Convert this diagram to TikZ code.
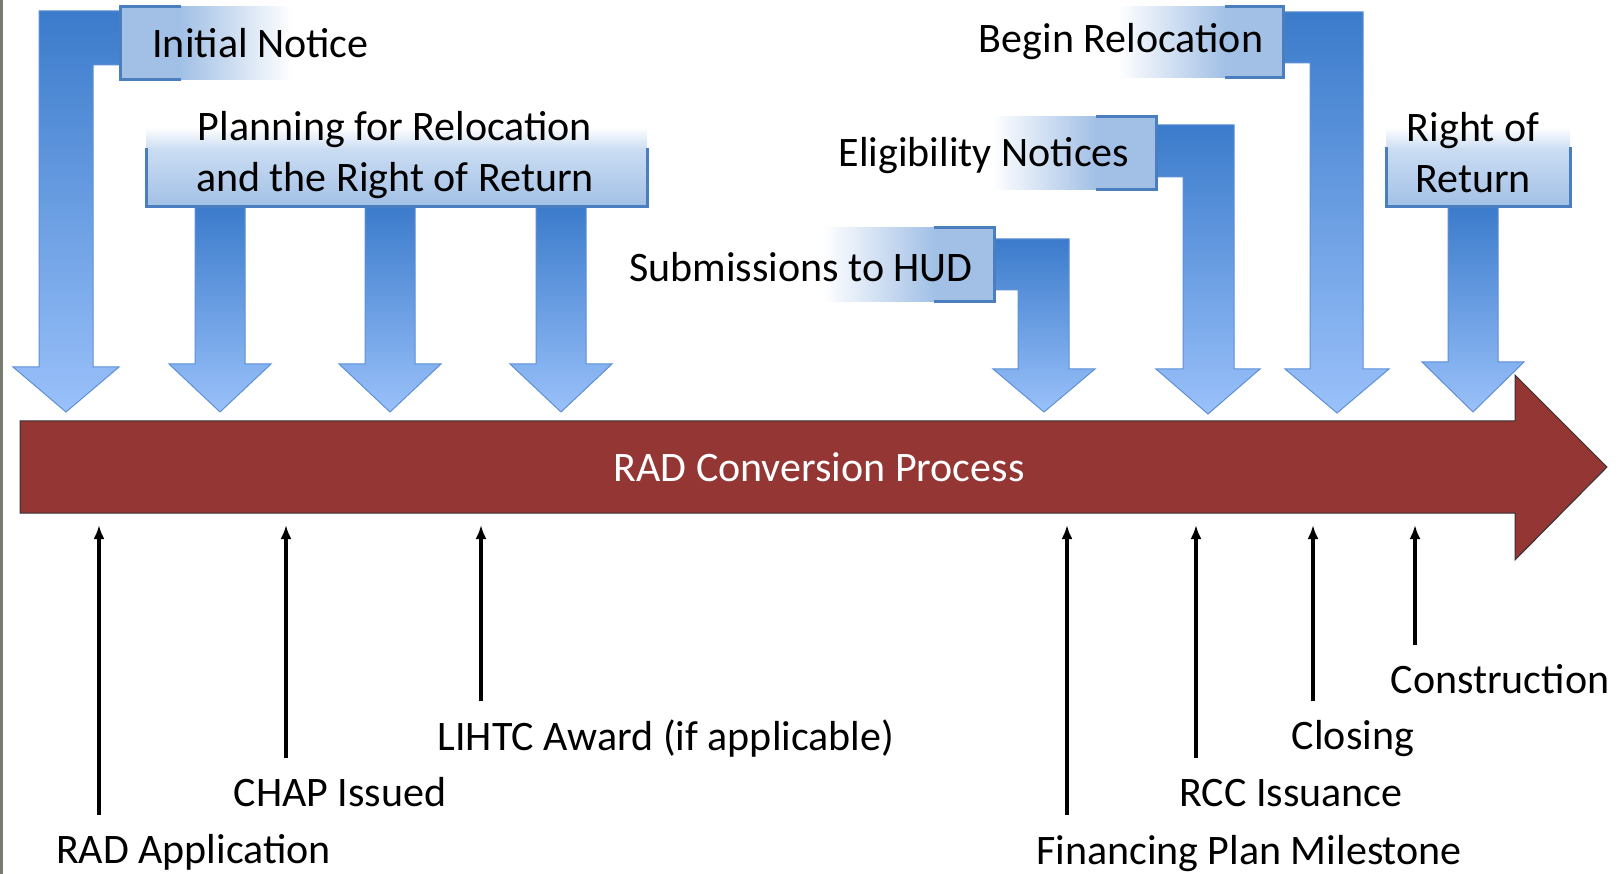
\documentclass[tikz,border=0pt]{standalone}
\usepackage{fontspec}
\setmainfont{Carlito}
\usetikzlibrary{arrows.meta}
\definecolor{bluetop}{HTML}{3B7BCB}
\definecolor{bluebot}{HTML}{9AC1FA}
\definecolor{blueline}{HTML}{5E90D6}
\definecolor{boxfill}{HTML}{A2C0E6}
\definecolor{boxlight}{HTML}{CADCF2}
\definecolor{boxedge}{HTML}{4A7EBF}
\definecolor{procred}{HTML}{943634}
\definecolor{sidegray}{HTML}{7A7A6E}
\begin{document}
\begin{tikzpicture}[x=1pt,y=-1pt,
  lbl/.style={font=\fontsize{42}{51}\selectfont, inner sep=0pt, anchor=base},
  barrow/.style={top color=bluetop, bottom color=bluebot, draw=blueline, line width=1pt, line join=miter},
  bord/.style={draw=boxedge, line width=3pt},
  blk/.style={line width=3.5pt, -{Latex[length=14pt,width=11pt]}}
]
\useasboundingbox (0,0) rectangle (1623,874);
\fill[white] (0,0) rectangle (1623,874);
\fill[sidegray] (0,0) rectangle (3,874);

% main process arrow
\path[fill=procred, draw=black!80, line width=1pt]
  (20,421) -- (1515,421) -- (1515,375) -- (1607,467) -- (1515,560) -- (1515,513) -- (20,513) -- cycle;
\node[lbl, text=white] (conv) at (819,482) {RAD Conversion Process};

% blue arrows
\path[barrow] (39,11) -- (122,11) -- (122,65) -- (93,65) -- (93,367) -- (119,367)
  -- (66,412) -- (13,367) -- (39,367) -- cycle;
\foreach \c in {220,390,561}
  \path[barrow] (\c-25,206) -- (\c+25,206) -- (\c+25,364) -- (\c+51,364) -- (\c,412)
    -- (\c-51,364) -- (\c-25,364) -- cycle;
\path[barrow] (990,239) -- (1069,239) -- (1069,369) -- (1095,369) -- (1044,412)
  -- (993,369) -- (1018,369) -- (1018,290) -- (990,290) -- cycle;
\path[barrow] (1152,125) -- (1234,125) -- (1234,369) -- (1260,369) -- (1208,414)
  -- (1156,369) -- (1183,369) -- (1183,177) -- (1152,177) -- cycle;
\path[barrow] (1279,12) -- (1363,12) -- (1363,369) -- (1389,369) -- (1337,413)
  -- (1285,369) -- (1310,369) -- (1310,63) -- (1279,63) -- cycle;
\path[barrow] (1448,206) -- (1498,206) -- (1498,362) -- (1524,362) -- (1473,412)
  -- (1422,362) -- (1448,362) -- cycle;

% Initial Notice box
\fill[boxfill] (120,7) rectangle (181,80);
\shade[left color=boxfill, right color=white] (181,7) rectangle (292,80);
\draw[bord] (181,7) -- (120,7) -- (120,80) -- (181,80);
\node[lbl] (initial) at (260.5,58) {Initial Notice};

% Planning box
\shade[top color=white, bottom color=boxlight] (146,127) rectangle (647,150);
\shade[top color=boxlight, bottom color=boxfill] (146,150) rectangle (647,207);
\draw[bord] (146,148) -- (146,207) -- (647,207) -- (647,148);
\node[lbl] (plan1) at (395,141) {Planning for Relocation};
\node[lbl] (plan2) at (395,192) {and the Right of Return};

% Submissions box
\shade[left color=white, right color=boxfill] (823,228) rectangle (934,302);
\fill[boxfill] (934,228) rectangle (994,302);
\draw[bord] (934,228) -- (994,228) -- (994,302) -- (934,302);
\node[lbl] (sub) at (801,282) {Submissions to HUD};

% Eligibility box
\shade[left color=white, right color=boxfill] (992,117) rectangle (1096,190);
\fill[boxfill] (1096,117) rectangle (1156,190);
\draw[bord] (1096,117) -- (1156,117) -- (1156,190) -- (1096,190);
\node[lbl] (elig) at (984,167) {Eligibility Notices};

% Begin Relocation box
\shade[left color=white, right color=boxfill] (1118,7) rectangle (1225,78);
\fill[boxfill] (1225,7) rectangle (1283,78);
\draw[bord] (1225,7) -- (1283,7) -- (1283,78) -- (1225,78);
\node[lbl] (begin) at (1121,53) {Begin Relocation};

% Right of Return box
\shade[top color=white, bottom color=boxlight] (1386,127) rectangle (1570,150);
\shade[top color=boxlight, bottom color=boxfill] (1386,150) rectangle (1570,207);
\draw[bord] (1386,147) -- (1386,207) -- (1570,207) -- (1570,147);
\node[lbl] (ror1) at (1473,142) {Right of};
\node[lbl] (ror2) at (1473,193) {Return};

% milestone labels
\node[lbl] (radapp) at (193.5,863) {RAD Application};
\node[lbl] (chap) at (340,806) {CHAP Issued};
\node[lbl] (lihtc) at (666,750) {LIHTC Award (if applicable)};
\node[lbl] (fin) at (1249,864) {Financing Plan Milestone};
\node[lbl] (rcc) at (1291,806) {RCC Issuance};
\node[lbl] (closing) at (1353,749) {Closing};
\node[lbl] (constr) at (1500,693) {Construction};

% milestone arrows
\coordinate (radB) at (99,815);   \coordinate (radT) at (99,525);
\coordinate (chapB) at (286,758); \coordinate (chapT) at (286,525);
\coordinate (lihB) at (481,701);  \coordinate (lihT) at (481,525);
\coordinate (finB) at (1067,815); \coordinate (finT) at (1067,525);
\coordinate (rccB) at (1196,758); \coordinate (rccT) at (1196,525);
\coordinate (cloB) at (1313,701); \coordinate (cloT) at (1313,525);
\coordinate (conB) at (1415,645); \coordinate (conT) at (1415,525);
\draw[blk] (radB) -- (radT);
\draw[blk] (chapB) -- (chapT);
\draw[blk] (lihB) -- (lihT);
\draw[blk] (finB) -- (finT);
\draw[blk] (rccB) -- (rccT);
\draw[blk] (cloB) -- (cloT);
\draw[blk] (conB) -- (conT);
\end{tikzpicture}
\end{document}
